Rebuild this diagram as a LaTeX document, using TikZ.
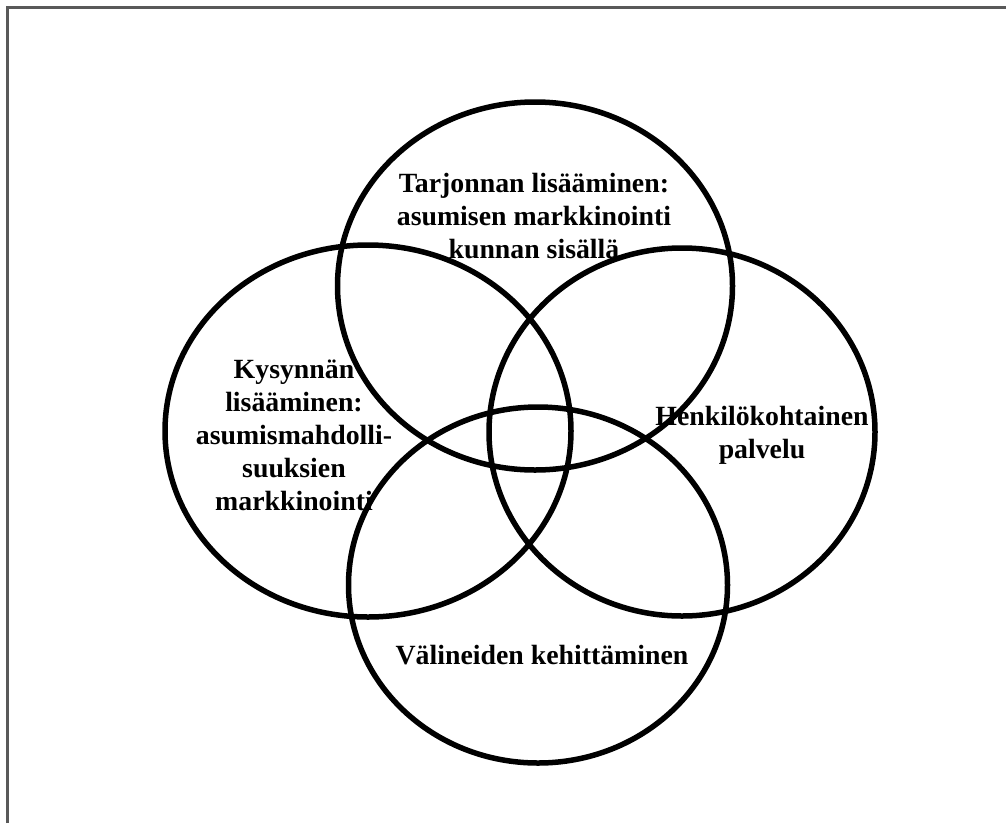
\documentclass[tikz,border=0pt]{standalone}
\usepackage{fontspec}
\setmainfont{Liberation Serif}
\usepackage{tikz}
\usetikzlibrary{shapes.geometric}

\begin{document}
\begin{tikzpicture}[
    x=1pt, y=-1pt,
    ring/.style={draw, ellipse, line width=5.5pt, inner sep=0pt},
    caption/.style={align=center, font=\fontsize{27.8}{33}\selectfont\bfseries},
    frame/.style={line width=3pt, gray!70!black}
]
    \useasboundingbox (0,0) rectangle (1006,823);

    % Outer frame (only top and left edges are visible)
    \coordinate (corner) at (7,7);
    \draw[frame] (corner |- 0,823) -- (corner) -- (corner -| 1006,0);

    % The four overlapping circles
    \node[ring, minimum width=395pt, minimum height=368pt] (supply) at (535,286) {};
    \node[ring, minimum width=406pt, minimum height=372pt] (demand) at (368,431) {};
    \node[ring, minimum width=386pt, minimum height=368pt] (service) at (682,432) {};
    \node[ring, minimum width=379pt, minimum height=356pt] (tools) at (538,585) {};

    % Texts
    \node[caption] (supplytext) at (534,216)
        {Tarjonnan lisääminen:\\asumisen markkinointi\\kunnan sisällä};
    \node[caption] (demandtext) at (294,435)
        {Kysynnän\\lisääminen:\\asumismahdolli-\\suuksien\\markkinointi};
    \node[caption] (servicetext) at (762,435)
        {Henkilökohtainen\\palvelu};
    \node[caption] (toolstext) at (542,655)
        {Välineiden kehittäminen};
\end{tikzpicture}
\end{document}
